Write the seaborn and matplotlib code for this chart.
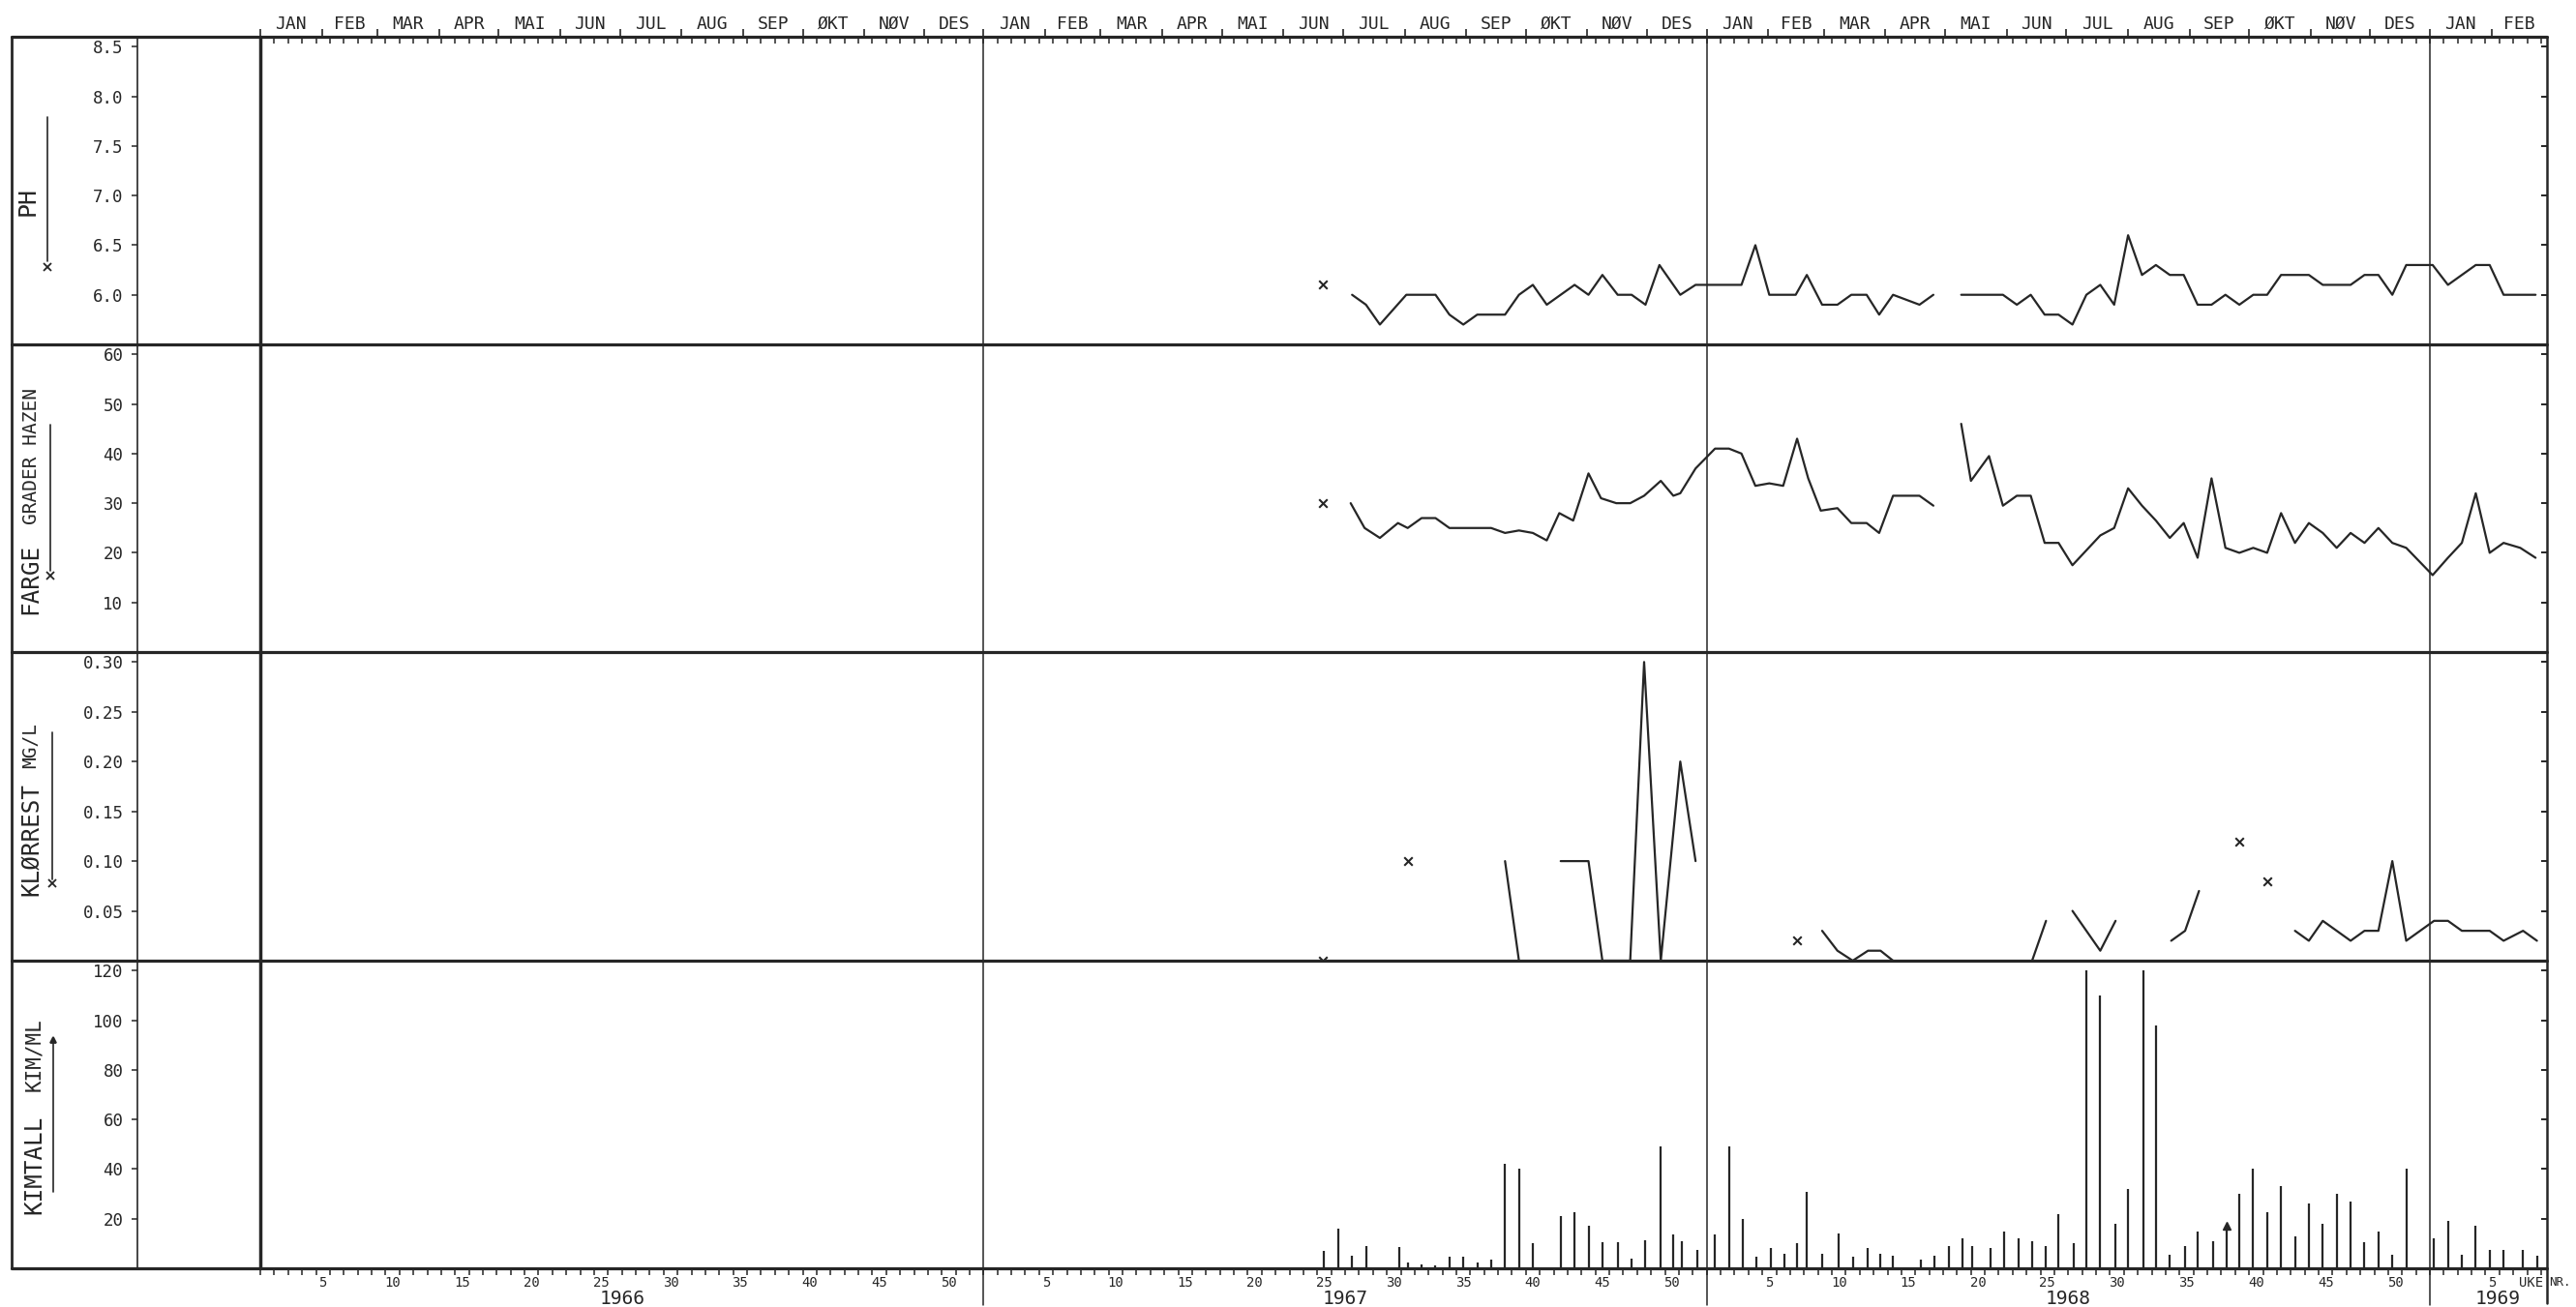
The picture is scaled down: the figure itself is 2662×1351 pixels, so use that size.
import numpy as np
import pandas as pd
import matplotlib
matplotlib.use("Agg")
import matplotlib.pyplot as plt
import matplotlib.transforms as mtransforms
from matplotlib.lines import Line2D
import seaborn as sns

nan = np.nan

# ---------------------------------------------------------------------------
# Data.  Positions are in weeks counted continuously from 1 Jan 1966
# (52 weeks per year, so 1967 starts at 52, 1968 at 104, 1969 at 156).
# nan entries break the curve.
# ---------------------------------------------------------------------------
ph_week = [76.4, nan, 78.5, 79.5, 80.5, 82.4, 83.5, 84.5, 85.5, 86.5,
           87.5, 88.5, 89.5, 90.5, 91.5, 92.5, 93.5, 94.5, 95.5, 96.5,
           97.6, 98.6, 99.6, 100.6, 102.1, 103.2, 104.6, 105.6, 106.5, 107.5,
           108.5, 109.5, 110.4, 111.2, 112.3, 113.4, 114.4, 115.5, 116.4, 117.4,
           119.3, 120.3, nan, 122.3, 123.2, 124.3, 125.3, 126.3, 127.3, 128.3,
           129.3, 130.3, 131.3, 132.3, 133.3, 134.3, 135.3, 136.3, 137.3, 138.3,
           139.3, 140.3, 141.3, 142.3, 143.3, 144.3, 145.3, 146.3, 147.3, 148.3,
           149.3, 150.3, 151.3, 152.3, 153.3, 154.3, 155.3, 156.2, 157.3, 158.3,
           159.3, 160.3, 161.3, 162.5, 163.6]
ph_value = [6.1, nan, 6.0, 5.9, 5.7, 6.0, 6.0, 6.0, 5.8, 5.7,
            5.8, 5.8, 5.8, 6.0, 6.1, 5.9, 6.0, 6.1, 6.0, 6.2,
            6.0, 6.0, 5.9, 6.3, 6.0, 6.1, 6.1, 6.1, 6.1, 6.5,
            6.0, 6.0, 6.0, 6.2, 5.9, 5.9, 6.0, 6.0, 5.8, 6.0,
            5.9, 6.0, nan, 6.0, 6.0, 6.0, 6.0, 5.9, 6.0, 5.8,
            5.8, 5.7, 6.0, 6.1, 5.9, 6.6, 6.2, 6.3, 6.2, 6.2,
            5.9, 5.9, 6.0, 5.9, 6.0, 6.0, 6.2, 6.2, 6.2, 6.1,
            6.1, 6.1, 6.2, 6.2, 6.0, 6.3, 6.3, 6.3, 6.1, 6.2,
            6.3, 6.3, 6.0, 6.0, 6.0]

farge_week = [76.4, nan, 78.4, 79.4, 80.5, 81.8, 82.5, 83.5, 84.5, 85.5,
              86.5, 87.5, 88.5, 89.5, 90.5, 91.5, 92.5, 93.4, 94.4, 95.5,
              96.4, 97.5, 98.5, 99.5, 100.7, 101.6, 102.1, 103.2, 104.6, 105.6,
              106.5, 107.5, 108.5, 109.5, 110.5, 111.3, 112.2, 113.4, 114.4, 115.5,
              116.4, 117.4, 118.3, 119.3, 120.3, nan, 122.3, 123.0, 124.3, 125.3,
              126.3, 127.3, 128.3, 129.3, 130.3, 131.3, 132.3, 133.3, 134.3, 135.3,
              136.3, 137.3, 138.3, 139.3, 140.3, 141.3, 142.3, 143.3, 144.3, 145.3,
              146.3, 147.3, 148.3, 149.3, 150.3, 151.3, 152.3, 153.3, 154.3, 156.2,
              157.3, 158.3, 159.3, 160.3, 161.3, 162.5, 163.6]
farge_value = [30, nan, 30, 25, 23, 26, 25, 27, 27, 25,
               25, 25, 25, 24, 24.5, 24, 22.5, 28, 26.5, 36,
               31, 30, 30, 31.5, 34.5, 31.5, 32, 37, 41, 41,
               40, 33.5, 34, 33.5, 43, 35, 28.5, 29, 26, 26,
               24, 31.5, 31.5, 31.5, 29.5, nan, 46, 34.5, 39.5, 29.5,
               31.5, 31.5, 22, 22, 17.5, 20.5, 23.5, 25, 33, 29.5,
               26.5, 23, 26, 19, 35, 21, 20, 21, 20, 28,
               22, 26, 24, 21, 24, 22, 25, 22, 21, 15.5,
               19, 22, 32, 20, 22, 21, 19]

klor_week = [76.4, nan, 82.5, nan, 89.5, 90.5, nan, 93.5, 94.5, 95.5,
             96.5, 97.6, 98.5, 99.5, 100.7, 102.1, 103.2, nan, 110.5, nan,
             112.3, 113.4, 114.5, 115.6, 116.5, 117.4, nan, 127.4, 128.4, nan,
             130.3, 131.3, 132.3, 133.4, nan, 137.4, 138.4, 139.4, nan, 142.3,
             nan, 144.3, nan, 146.3, 147.3, 148.3, 149.3, 150.3, 151.3, 152.3,
             153.3, 154.3, 155.3, 156.3, 157.3, 158.3, 159.3, 160.3, 161.3, 162.7,
             163.7]
klor_value = [0.0, nan, 0.10, nan, 0.10, 0.0, nan, 0.10, 0.10, 0.10,
              0.0, 0.0, 0.0, 0.30, 0.0, 0.20, 0.10, nan, 0.02, nan,
              0.03, 0.01, 0.0, 0.01, 0.01, 0.0, nan, 0.0, 0.04, nan,
              0.05, 0.03, 0.01, 0.04, nan, 0.02, 0.03, 0.07, nan, 0.12,
              nan, 0.08, nan, 0.03, 0.02, 0.04, 0.03, 0.02, 0.03, 0.03,
              0.10, 0.02, 0.03, 0.04, 0.04, 0.03, 0.03, 0.03, 0.02, 0.03,
              0.02]

kim_week = [76.5, 77.5, 78.5, 79.5, 81.9, 82.5, 83.5, 84.5, 85.5, 86.5,
            87.5, 88.5, 89.5, 90.5, 91.5, 93.5, 94.5, 95.5, 96.5, 97.6,
            98.6, 99.6, 100.7, 101.6, 102.2, 103.3, 104.6, 105.6, 106.6, 107.6,
            108.6, 109.6, 110.5, 111.2, 112.3, 113.5, 114.5, 115.6, 116.5, 117.4,
            119.4, 120.4, 121.4, 122.4, 123.1, 124.4, 125.4, 126.4, 127.4, 128.4,
            129.3, 130.4, 131.3, 132.3, 133.4, 134.3, 135.4, 136.3, 137.3, 138.4,
            139.3, 140.4, 141.4, 142.3, 143.3, 144.3, 145.3, 146.3, 147.3, 148.3,
            149.3, 150.3, 151.3, 152.3, 153.3, 154.3, 156.3, 157.3, 158.3, 159.3,
            160.3, 161.3, 162.7, 163.7]
kim_value = [7, 16, 5, 9, 8.5, 2.5, 1.7, 1, 4.5, 4.5,
             2.5, 3.5, 42, 40, 10, 21, 22.5, 17, 10.5, 10.5,
             4, 11.5, 49, 13.5, 11, 7.5, 13.5, 49, 20, 4.5,
             8, 6, 10, 31, 6, 14, 4.5, 8, 6, 5,
             3.5, 5, 9, 12, 9, 8, 15, 12, 11, 9,
             22, 10, 120, 110, 18, 32, 120, 98, 5.5, 9,
             15, 11, 17, 30, 40, 22.5, 33, 13, 26, 18,
             30, 27, 10.5, 15, 5.5, 40, 12, 19, 5.5, 17,
             7.5, 7.5, 7.5, 5]
kim_arrow_week = [141.4]          # sample marked with an arrow head

years = ["1966", "1967", "1968", "1969"]
year_label_pos = [26, 78, 130, 160.9]
month_names = ["JAN", "FEB", "MAR", "APR", "MAI", "JUN",
               "JUL", "AUG", "SEP", "ØKT", "NØV", "DES"]
month_start_day = [0, 31, 59, 90, 120, 151, 181, 212, 243, 273, 304, 334]
week_numbers = [5, 10, 15, 20, 25, 30, 35, 40, 45, 50]

ph_ticks = [6.0, 6.5, 7.0, 7.5, 8.0, 8.5]
farge_ticks = [10, 20, 30, 40, 50, 60]
klor_ticks = [0.05, 0.10, 0.15, 0.20, 0.25, 0.30]
kim_ticks = [20, 40, 60, 80, 100, 120]

# ---------------------------------------------------------------------------
sns.set_theme(style="white")
plt.rcParams["font.family"] = ["DejaVu Sans Mono", "DejaVu Sans"]

INK = "#262626"
W, H = 2662, 1351
fig = plt.figure(figsize=(W / 100, H / 100), dpi=100)
fig.patch.set_facecolor("white")

X0, X1 = -8.84, 164.42
AX_L, AX_R, FRAME_L = 142, 2632, 12
edges = [38, 356, 674, 993, 1311]
LW = 1.6


def fx(px):
    return px / W


def fy(py):
    return 1 - py / H


def segments(weeks, values):
    rows, seg = [], 0
    for w, v in zip(weeks, values):
        if np.isnan(w) or np.isnan(v):
            seg += 1
            continue
        rows.append((w, v, seg))
    df = pd.DataFrame(rows, columns=["uke", "verdi", "seg"])
    n = df.groupby("seg")["uke"].transform("size")
    return df[n > 1], df[n == 1]


panels = [
    dict(ylim=(5.5, 8.6), ticks=ph_ticks, fmt="{:.1f}"),
    dict(ylim=(0, 62), ticks=farge_ticks, fmt="{:d}"),
    dict(ylim=(0, 0.31), ticks=klor_ticks, fmt="{:.2f}"),
    dict(ylim=(0, 124), ticks=kim_ticks, fmt="{:d}"),
]
series = [(ph_week, ph_value), (farge_week, farge_value), (klor_week, klor_value)]

axes = []
for i, p in enumerate(panels):
    top, bot = edges[i], edges[i + 1]
    ax = fig.add_axes([fx(AX_L), fy(bot), fx(AX_R) - fx(AX_L), (bot - top) / H])
    ax.set_facecolor("white")
    ax.set_xlim(X0, X1)
    ax.set_ylim(*p["ylim"])
    for name, sp in ax.spines.items():
        sp.set_visible(name == "left")
    ax.spines["left"].set_color(INK)
    ax.spines["left"].set_linewidth(1.2)
    ax.set_yticks(p["ticks"], labels=[p["fmt"].format(t) for t in p["ticks"]])
    ax.tick_params(axis="y", left=True, direction="out", length=4.5, width=1.1,
                   pad=6, labelsize=12.5, colors=INK)
    sec = ax.secondary_yaxis("right")
    sec.set_yticks(p["ticks"])
    sec.tick_params(direction="in", length=4.5, width=1.4, labelright=False,
                    colors=INK)
    for sp in sec.spines.values():
        sp.set_visible(False)
    ax.set_xticks([])
    axes.append(ax)

# line series
for ax, (wk, val) in zip(axes[:3], series):
    lines, single = segments(wk, val)
    sns.lineplot(data=lines, x="uke", y="verdi", units="seg", estimator=None,
                 sort=False, color=INK, linewidth=LW, ax=ax, legend=False)
    sns.scatterplot(data=single, x="uke", y="verdi", marker="x", s=38,
                    color=INK, linewidth=1.5, ax=ax, legend=False,
                    clip_on=False, zorder=5)
    ax.set_xlabel("")
    ax.set_ylabel("")

# bacteria count bars
axk = axes[3]
axk.vlines(kim_week, 0, kim_value, colors=INK, linewidth=LW)
arrow_vals = [kim_value[kim_week.index(w)] for w in kim_arrow_week]
axk.plot(kim_arrow_week, arrow_vals, linestyle="none", marker="^",
         markersize=5.5, color=INK)

# top axis: week ticks + month labels
axt = axes[0]
axt.set_xticks(np.arange(0, 165))
axt.tick_params(axis="x", which="major", top=True, bottom=False, labeltop=False,
                labelbottom=False, direction="in", length=5, width=1.1,
                colors=INK)
m_bounds, m_centers, m_labels = [], [], []
for y in range(4):
    starts = [y * 52 + d / 7 for d in month_start_day] + [y * 52 + 52]
    for k in range(12):
        if starts[k] <= X1:
            m_bounds.append(starts[k])
        c = (starts[k] + starts[k + 1]) / 2
        if c < X1:
            m_centers.append(c)
            m_labels.append(month_names[k])
secx = axt.secondary_xaxis("top")
secx.set_xticks(m_bounds)
secx.set_xticks(m_centers, labels=m_labels, minor=True)
secx.tick_params(which="major", direction="out", length=6, width=1.2,
                 labeltop=False, colors=INK)
secx.tick_params(which="minor", length=0, pad=3, labelsize=13, colors=INK)
for sp in secx.spines.values():
    sp.set_visible(False)

# bottom axis: week ticks + week numbers
lab_pos, lab_txt = [], []
for y in range(3):
    for w in week_numbers:
        lab_pos.append(y * 52 + w - 0.5)
        lab_txt.append(str(w))
lab_pos += [156 + 4.5, 163.3]
lab_txt += ["5", "UKE"]
axk.set_xticks(np.arange(0, 165))
axk.set_xticks(lab_pos, labels=lab_txt, minor=True)
axk.tick_params(axis="x", which="major", bottom=True, top=False, direction="out",
                length=5, width=1.1, labelbottom=False, colors=INK)
axk.tick_params(axis="x", which="minor", bottom=True, length=0, pad=5.5,
                labelsize=10, colors=INK)
bt = mtransforms.blended_transform_factory(axk.transData, axk.transAxes)
axk.annotate("NR.", xy=(164.55, 0), xycoords=bt, xytext=(0, -10.5),
             textcoords="offset points", ha="left", va="center",
             fontsize=9, color=INK, annotation_clip=False)
for yl, xp in zip(years, year_label_pos):
    axk.annotate(yl, xy=(xp, 0), xycoords=bt, xytext=(0, -22.5),
                 textcoords="offset points", ha="center", va="center",
                 fontsize=14, color=INK, annotation_clip=False)

# frame and dividers
for y in edges:
    fig.add_artist(Line2D([fx(FRAME_L), fx(AX_R)], [fy(y), fy(y)],
                          transform=fig.transFigure, color=INK, lw=2.3))
fig.add_artist(Line2D([fx(FRAME_L)] * 2, [fy(edges[0]), fy(edges[-1])],
                      transform=fig.transFigure, color=INK, lw=2.0))
fig.add_artist(Line2D([fx(AX_R)] * 2, [fy(edges[0]), fy(1347)],
                      transform=fig.transFigure, color=INK, lw=1.8))
vt = mtransforms.blended_transform_factory(axt.transData, fig.transFigure)
fig.add_artist(Line2D([0, 0], [fy(edges[0]), fy(edges[-1])], transform=vt,
                      color=INK, lw=2.5))
for t in (52, 104, 156):
    fig.add_artist(Line2D([t, t], [fy(edges[0]), fy(1349)], transform=vt,
                          color=INK, lw=1.1))

# left label column
def vtext(x, y, s, size):
    fig.text(fx(x), fy(y), s, rotation=90, ha="center", va="center",
             fontsize=size, color=INK)


def vline(x, y0, y1):
    fig.add_artist(Line2D([fx(x)] * 2, [fy(y0), fy(y1)],
                          transform=fig.transFigure, color=INK, lw=1.2))


def mark(x, y, m, ms):
    fig.add_artist(Line2D([fx(x)], [fy(y)], transform=fig.transFigure,
                          color=INK, marker=m, ms=ms, mew=1.3, linestyle="none"))


vtext(29, 208, "PH", 18)
vline(49, 121, 270)
mark(49, 276, "x", 5.5)

vtext(31, 598, "FARGE", 17.5)
vtext(32, 472, "GRADER HAZEN", 14)
vline(52, 439, 590)
mark(52, 595, "x", 5.5)

vtext(32, 868, "KLØRREST", 17.5)
vtext(32, 770, "MG/L", 14)
vline(53.5, 757, 909)
mark(53.5, 913, "x", 5.5)

vtext(35, 1204, "KIMTALL", 17.5)
vtext(35, 1090, "KIM/ML", 15)
vline(55, 1232, 1078)
mark(55, 1075, "^", 4.5)

fig.savefig("out.png", dpi=100, facecolor="white")
